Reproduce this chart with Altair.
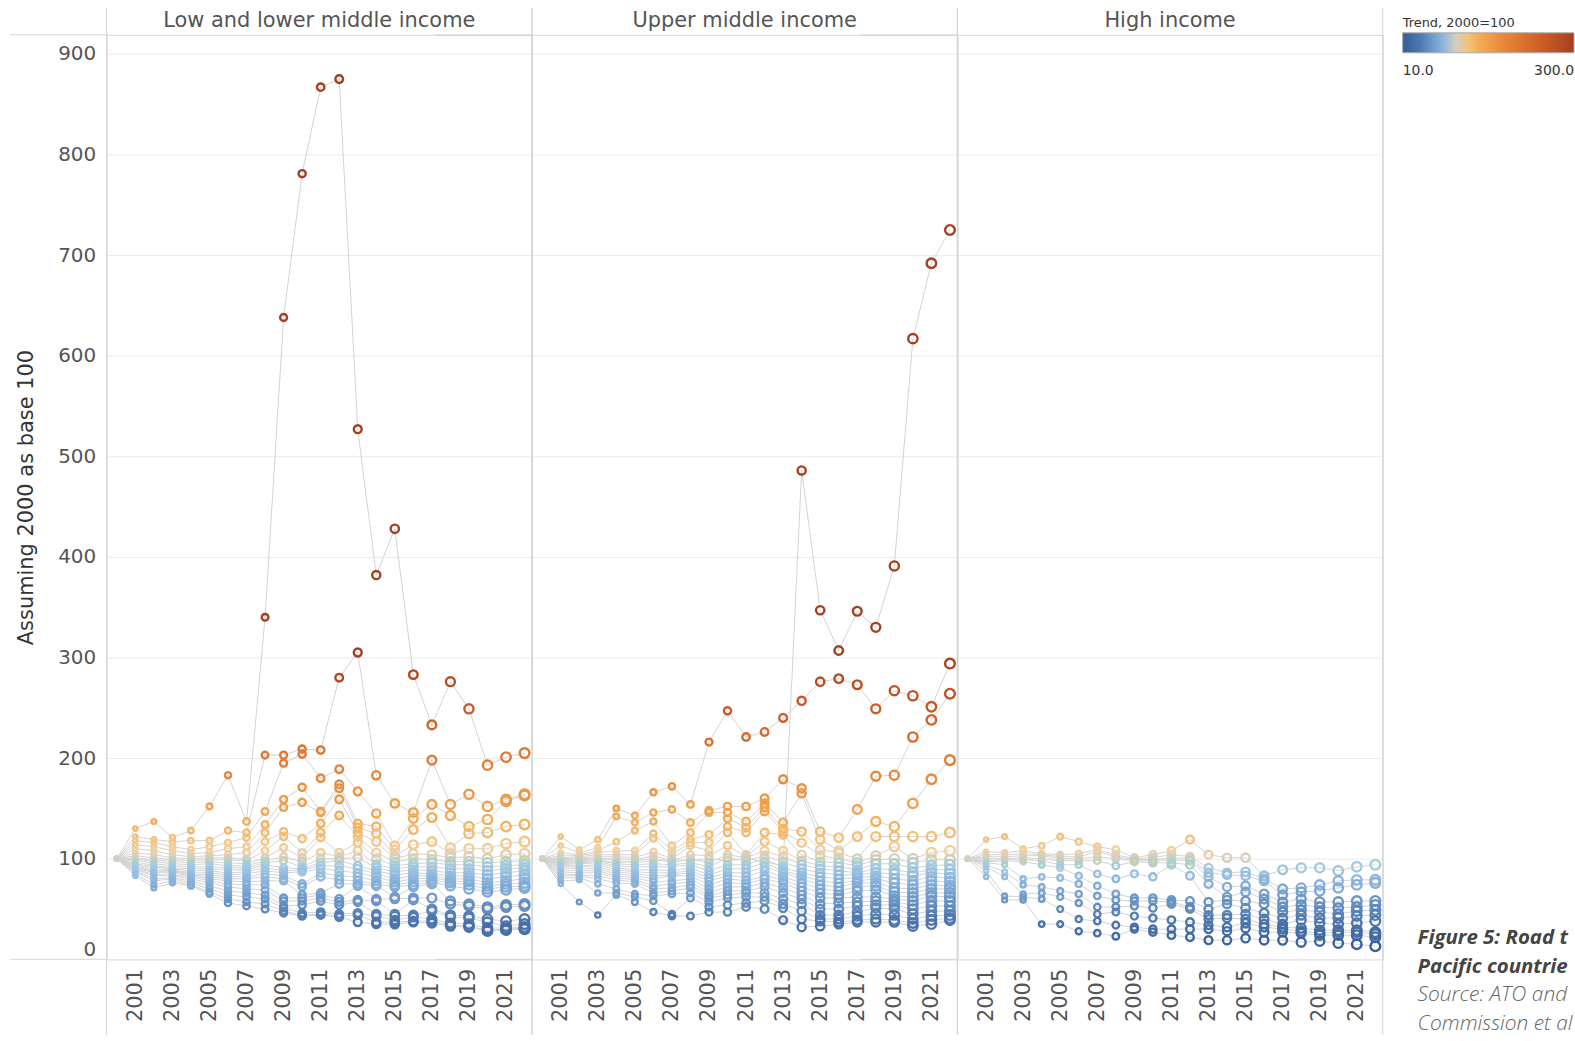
import altair as alt
import pandas as pd

YEARS = list(range(2000, 2023))
PANELS = ["Low and lower middle income", "Upper middle income", "High income"]
BASE_VALUE = 100

# Index values (2000 = 100) per year; position k in every list is country k of the group.
LOW_LOWER_MIDDLE = {
    2001: [130, 122, 118, 114, 110, 106, 103, 101, 100, 99, 97, 95, 94, 93, 92, 91, 90, 89, 88, 87, 85, 83],
    2002: [137, 119, 116, 112, 108, 104, 101, 99, 97, 95, 93, 92, 90, 88, 87, 86, 84, 83, 80, 78, 74, 71],
    2003: [121, 117, 112, 108, 104, 101, 99, 97, 95, 93, 91, 90, 89, 88, 87, 86, 84, 83, 81, 80, 78, 76],
    2004: [128, 118, 109, 105, 102, 100, 98, 96, 94, 92, 90, 88, 86, 85, 84, 83, 82, 80, 78, 76, 74, 73],
    2005: [152, 118, 112, 106, 103, 101, 99, 97, 95, 92, 90, 88, 86, 84, 82, 80, 78, 76, 73, 70, 67, 65],
    2006: [183, 128, 116, 110, 104, 101, 99, 96, 93, 91, 89, 86, 84, 82, 80, 78, 75, 72, 68, 64, 60, 56],
    2007: [137, 126, 121, 112, 106, 100, 98, 95, 93, 91, 89, 87, 85, 82, 80, 77, 74, 70, 66, 62, 57, 53],
    2008: [340, 203, 147, 134, 126, 117, 108, 101, 98, 96, 94, 91, 88, 85, 82, 78, 74, 69, 64, 60, 55, 50],
    2009: [638, 203, 195, 159, 151, 127, 122, 111, 102, 98, 91, 88, 86, 83, 80, 78, 61, 58, 53, 51, 48, 46],
    2010: [781, 209, 204, 171, 156, 120, 106, 101, 97, 92, 90, 89, 87, 75, 72, 64, 61, 58, 54, 46, 44, 43],
    2011: [867, 208, 180, 147, 146, 135, 126, 121, 106, 100, 96, 93, 90, 86, 82, 66, 64, 61, 58, 47, 45, 44],
    2012: [875, 280, 189, 174, 170, 159, 143, 106, 102, 100, 98, 93, 88, 83, 79, 75, 60, 57, 54, 45, 43, 42],
    2013: [527, 305, 167, 135, 131, 126, 122, 116, 108, 101, 93, 90, 86, 82, 78, 75, 73, 59, 57, 46, 44, 37],
    2014: [382, 183, 145, 132, 125, 117, 106, 100, 94, 91, 88, 85, 82, 78, 75, 73, 60, 58, 45, 43, 37, 35],
    2015: [428, 155, 113, 109, 103, 100, 97, 93, 90, 87, 84, 80, 77, 74, 72, 62, 60, 45, 43, 39, 37, 35],
    2016: [283, 146, 140, 129, 114, 105, 100, 95, 92, 89, 86, 83, 80, 77, 74, 72, 61, 59, 44, 42, 38, 37],
    2017: [233, 198, 154, 141, 117, 104, 99, 96, 92, 88, 85, 83, 81, 79, 77, 75, 61, 50, 48, 40, 38, 36],
    2018: [276, 154, 143, 111, 105, 101, 97, 94, 90, 86, 83, 80, 78, 76, 73, 58, 55, 44, 42, 36, 34, 33],
    2019: [249, 164, 132, 125, 110, 102, 97, 94, 90, 86, 83, 80, 77, 74, 70, 55, 53, 43, 41, 35, 33, 32],
    2020: [193, 152, 139, 126, 110, 100, 96, 92, 88, 84, 80, 76, 73, 70, 67, 52, 50, 40, 37, 31, 29, 28],
    2021: [201, 159, 157, 132, 115, 104, 97, 93, 90, 86, 82, 78, 75, 72, 69, 54, 52, 38, 33, 31, 30, 29],
    2022: [205, 164, 163, 134, 117, 105, 98, 94, 91, 88, 84, 80, 76, 73, 71, 55, 53, 40, 35, 32, 31, 30],
}

UPPER_MIDDLE = {
    2001: [99, 122, 113, 106, 103, 101, 100, 98, 97, 96, 95, 94, 93, 92, 91, 89, 87, 85, 83, 81, 78, 75],
    2002: [100, 109, 106, 104, 103, 102, 101, 99, 98, 97, 96, 95, 93, 92, 90, 88, 86, 84, 83, 81, 79, 57],
    2003: [101, 119, 111, 108, 106, 104, 102, 100, 99, 98, 97, 96, 94, 92, 90, 88, 86, 83, 80, 75, 66, 44],
    2004: [98, 150, 142, 117, 108, 104, 102, 100, 96, 95, 93, 91, 89, 87, 85, 83, 81, 79, 76, 70, 66, 64],
    2005: [96, 143, 136, 128, 108, 104, 101, 99, 98, 94, 92, 89, 87, 85, 83, 81, 79, 77, 75, 65, 62, 57],
    2006: [98, 166, 146, 137, 125, 120, 107, 103, 100, 95, 92, 89, 86, 83, 80, 77, 73, 70, 66, 63, 58, 47],
    2007: [99, 172, 149, 113, 108, 104, 100, 98, 96, 94, 92, 88, 86, 84, 83, 78, 75, 71, 68, 65, 45, 43],
    2008: [98, 154, 136, 126, 119, 116, 113, 104, 100, 96, 94, 91, 88, 86, 83, 80, 77, 74, 71, 66, 61, 43],
    2009: [100, 216, 148, 146, 124, 116, 108, 103, 96, 92, 88, 84, 81, 78, 74, 70, 66, 63, 61, 57, 52, 47],
    2010: [98, 247, 152, 146, 140, 132, 126, 113, 104, 101, 94, 90, 86, 83, 80, 76, 72, 68, 64, 61, 54, 47],
    2011: [100, 221, 152, 137, 131, 126, 104, 102, 101, 98, 94, 90, 86, 82, 78, 75, 72, 68, 66, 62, 56, 52],
    2012: [97, 226, 160, 155, 151, 147, 126, 117, 108, 103, 100, 96, 92, 88, 83, 80, 76, 72, 66, 62, 58, 50],
    2013: [93, 240, 179, 136, 130, 127, 124, 108, 102, 97, 91, 88, 86, 82, 79, 76, 71, 66, 60, 55, 51, 39],
    2014: [486, 257, 170, 165, 127, 116, 104, 98, 94, 90, 86, 83, 80, 76, 72, 68, 64, 60, 55, 48, 40, 32],
    2015: [347, 276, 127, 119, 109, 103, 97, 93, 90, 86, 82, 78, 74, 70, 66, 61, 55, 50, 44, 40, 38, 33],
    2016: [307, 279, 121, 108, 106, 100, 96, 92, 88, 84, 80, 76, 72, 68, 64, 61, 56, 50, 44, 40, 37, 35],
    2017: [346, 273, 149, 122, 100, 96, 93, 89, 86, 84, 81, 78, 76, 72, 68, 62, 57, 53, 47, 43, 39, 37],
    2018: [330, 249, 182, 137, 122, 103, 99, 95, 90, 86, 83, 80, 76, 73, 69, 62, 58, 54, 51, 45, 40, 37],
    2019: [391, 267, 183, 132, 122, 112, 100, 95, 89, 85, 80, 76, 71, 67, 63, 60, 57, 54, 50, 44, 39, 37],
    2020: [617, 262, 221, 155, 122, 100, 96, 91, 86, 83, 78, 74, 70, 66, 62, 58, 54, 50, 45, 40, 36, 33],
    2021: [692, 251, 238, 179, 122, 106, 99, 93, 89, 86, 82, 78, 74, 70, 66, 63, 58, 53, 48, 43, 39, 35],
    2022: [725, 294, 264, 198, 126, 108, 99, 94, 89, 85, 81, 77, 73, 70, 66, 62, 58, 53, 48, 44, 41, 39],
}

HIGH = {
    2001: [119, 107, 104, 102, 100, 98, 97, 96, 94, 92, 88, 82],
    2002: [122, 106, 104, 102, 100, 99, 98, 94, 87, 82, 63, 59],
    2003: [110, 108, 105, 103, 101, 99, 97, 80, 74, 65, 62, 59],
    2004: [113, 105, 104, 103, 100, 98, 94, 82, 72, 66, 60, 35],
    2005: [122, 104, 102, 100, 98, 94, 91, 81, 68, 62, 50, 35],
    2006: [117, 105, 102, 100, 98, 94, 83, 75, 65, 56, 40, 28],
    2007: [112, 109, 107, 102, 98, 85, 73, 63, 52, 45, 38, 26],
    2008: [109, 104, 102, 100, 93, 80, 65, 59, 52, 47, 34, 23],
    2009: [101, 100, 99, 98, 97, 85, 61, 58, 53, 43, 32, 30],
    2010: [104, 101, 99, 98, 96, 82, 61, 58, 51, 41, 30, 27],
    2011: [108, 104, 101, 99, 96, 94, 59, 57, 55, 39, 30, 24],
    2012: [119, 102, 100, 98, 94, 83, 58, 52, 50, 37, 30, 22],
    2013: [104, 91, 86, 82, 75, 57, 50, 44, 40, 34, 30, 19],
    2014: [101, 86, 84, 72, 62, 59, 55, 44, 41, 32, 28, 19],
    2015: [101, 87, 83, 73, 67, 58, 51, 45, 40, 36, 31, 21],
    2016: [83, 80, 78, 65, 60, 55, 46, 40, 35, 32, 27, 19],
    2017: [89, 70, 64, 57, 52, 47, 41, 35, 32, 30, 27, 19],
    2018: [91, 71, 67, 60, 54, 49, 44, 39, 31, 28, 26, 17],
    2019: [91, 74, 68, 57, 52, 47, 41, 36, 29, 26, 24, 18],
    2020: [88, 78, 71, 57, 51, 45, 41, 35, 29, 27, 24, 16],
    2021: [92, 79, 74, 58, 52, 48, 43, 36, 29, 27, 24, 15],
    2022: [94, 79, 76, 58, 54, 49, 44, 38, 27, 25, 22, 13],
}

CAPTION_TITLE = ["Figure 5: Road transport emission trends in Asia-", "Pacific countries, 2000\u20132022"]
CAPTION_SOURCE = ["Source: ATO and European", "Commission et al. (2023)"]

# Diverging blue -> beige -> orange ramp, centred on the base value 100
COLOR_STOPS = [10, 40, 70, 92, 100, 108, 135, 180, 240, 300]
COLOR_RANGE = ["#335d96", "#5079b0", "#7ea9d5", "#a6cae6", "#d6cec1",
               "#f2d09c", "#f3b059", "#e8883a", "#cf6128", "#a5401f"]

FONT = "DejaVu Sans"
CAPTION_FONT = "Open Sans"
FRAME = "#d4d4d4"
PANEL_W, PANEL_H = 427, 928

records = []
for panel, table in zip(PANELS, [LOW_LOWER_MIDDLE, UPPER_MIDDLE, HIGH]):
    for k in range(len(table[2001])):
        sid = f"{panel} #{k + 1}"
        records.append({"panel": panel, "series": sid, "year": 2000, "value": BASE_VALUE})
        for yr in YEARS[1:]:
            records.append({"panel": panel, "series": sid, "year": yr, "value": table[yr][k]})
df = pd.DataFrame(records)

x_enc = alt.X(
    "year:Q",
    scale=alt.Scale(domain=[1999.45, 2022.4], nice=False, zero=False),
    axis=alt.Axis(values=list(range(2001, 2022, 2)), format="d", labelAngle=270,
                  labelAlign="right", labelBaseline="middle", labelFontSize=21,
                  labelColor="#555555", labelFont=FONT, labelPadding=9,
                  grid=False, domain=False, ticks=False),
    title=None,
)
y_enc = alt.Y(
    "value:Q",
    scale=alt.Scale(domain=[0, 919], nice=False),
    axis=alt.Axis(values=list(range(0, 901, 100)), grid=True, gridColor="#ebebeb",
                  domain=False, ticks=False, labelFontSize=20, labelColor="#555555",
                  labelFont=FONT, labelPadding=11, labelFlush=5,
                  titleFontSize=21, titleColor="#333333",
                  titleFont=FONT, titleFontWeight="normal", titlePadding=20,
                  minExtent=50, maxExtent=50),
    title="Assuming 2000 as base 100",
)

base = alt.Chart(df)

# Panel separators that run through the header band and the year labels
frame = base.transform_aggregate(n="count()", groupby=["panel"]).mark_rule(
    color=FRAME, strokeWidth=1
)
frame_left = frame.encode(x=alt.value(0), y=alt.value(-27), y2=alt.value(PANEL_H + 76))
frame_right = frame.encode(x=alt.value(PANEL_W), y=alt.value(-27), y2=alt.value(PANEL_H + 76))
frame_top = frame.encode(x=alt.value(-97), x2=alt.value(0), y=alt.value(0))
frame_bottom = frame.encode(x=alt.value(-97), x2=alt.value(0), y=alt.value(PANEL_H))

lines = base.mark_line(color="#d3d3d3", strokeWidth=1).encode(
    x=x_enc, y=y_enc, detail="series:N", order="year:Q"
)

points = base.mark_point(shape="circle", filled=False, strokeWidth=2.4, opacity=1).encode(
    x=x_enc,
    y=y_enc,
    color=alt.Color(
        "value:Q",
        scale=alt.Scale(domain=COLOR_STOPS, range=COLOR_RANGE, clamp=True),
        title="Trend, 2000=100",
        legend=alt.Legend(
            orient="none", legendX=1301, legendY=-18, direction="horizontal",
            gradientLength=172, gradientThickness=20, values=[10, 300], format=".1f",
            titleFontSize=13, titleFontWeight="normal", titleColor="#333333", titleFont=FONT,
            labelFontSize=14, labelColor="#333333", labelFont=FONT, labelOffset=11,
            titlePadding=3, gradientStrokeColor="#aaaaaa", gradientStrokeWidth=1,
        ),
    ),
    size=alt.Size("year:Q", scale=alt.Scale(domain=[2000, 2022], range=[16, 95]), legend=None),
)

panels = alt.layer(frame_left, frame_right, frame_top, frame_bottom, lines, points).properties(
    width=PANEL_W, height=PANEL_H
).facet(
    column=alt.Column(
        "panel:N", sort=PANELS, title=None,
        header=alt.Header(labelFontSize=21, labelColor="#555555", labelFont=FONT,
                          labelPadding=4, labelOrient="top"),
    ),
    spacing=0,
    bounds="flush",
)

caption_df = pd.DataFrame({
    "text": CAPTION_TITLE + CAPTION_SOURCE,
    "line": [0, 1, 2, 3],
    "kind": ["title", "title", "source", "source"],
})
cap_base = alt.Chart(caption_df)
cap_y = alt.Y("line:Q", scale=alt.Scale(domain=[0, 3], range=[907, 993]), axis=None)
cap_title = cap_base.transform_filter(alt.datum.kind == "title").mark_text(
    align="left", baseline="middle", font=CAPTION_FONT, fontSize=20.5, fontStyle="italic",
    fontWeight="bold", color="#444444", limit=157, ellipsis="\u200b",
).encode(x=alt.value(31), y=cap_y, text="text:N")
cap_source = cap_base.transform_filter(alt.datum.kind == "source").mark_text(
    align="left", baseline="middle", font=CAPTION_FONT, fontSize=21, fontStyle="italic",
    fontWeight=300, color="#666666", limit=157, ellipsis="\u200b",
).encode(x=alt.value(31), y=cap_y, text="text:N")
caption = alt.layer(cap_title, cap_source).properties(
    width=188, height=990, view=alt.ViewBackground(stroke="transparent")
)

chart = alt.hconcat(panels, caption, spacing=0).properties(
    padding={"left": 9, "top": 5, "right": 0, "bottom": 0},
    background="white",
).configure_view(stroke=FRAME).configure_concat(spacing=0)

chart.save("out.html", embed_options={"renderer": "svg", "actions": False})
